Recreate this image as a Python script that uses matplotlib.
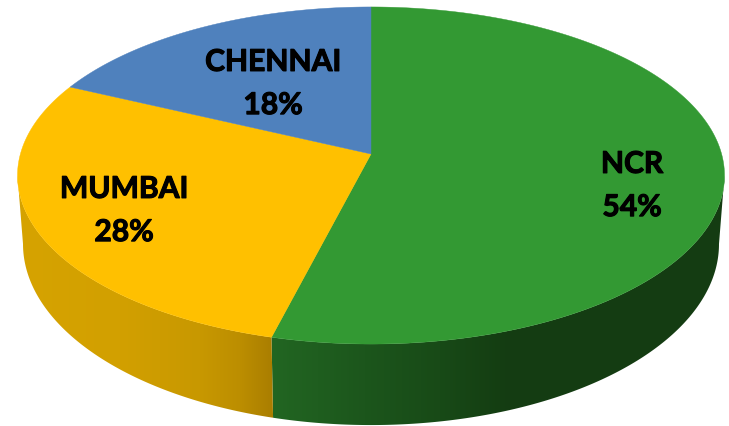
import numpy as np
import matplotlib
matplotlib.use("Agg")
import matplotlib.pyplot as plt
import matplotlib.patheffects as pe
from matplotlib.patches import Polygon
from matplotlib.colors import to_rgb

categories = ["NCR", "MUMBAI", "CHENNAI"]
shares = [54, 28, 18]
top_colors = ["#339933", "#FFC000", "#4F81BD"]
label_pos = [(632, 185), (124, 210), (273, 83)]

# side shading: (x pixel, colour) stops per slice
side_stops = [
    [(271, "#226622"), (365, "#1C561C"), (440, "#184A17"), (505, "#143D12"), (725, "#153C13")],
    [(18, "#D6A300"), (120, "#D2A000"), (200, "#C89800"), (240, "#BC8E00"), (272, "#AA7E00")],
    [(70, "#3F6A9C"), (371, "#3F6A9C")],
]

CX, CY, A, B, K = 371.0, 155.0, 350.6, 165.8, 0.1276
ELL_CY = 176.5
LOW_CY, SX, SY = 245.0, 348 / 353.5, 181 / 168.5
T_R = np.arccos(-K)
T_L = 2 * np.pi - T_R


def top_pt(t):
    u, v = np.sin(t), np.cos(t)
    w = 1 + K * v
    return CX + A * u / w, CY - B * v / w


def low_pt(t):
    x, y = top_pt(t)
    return CX + (x - CX) * SX, LOW_CY + (y - ELL_CY) * SY


fig = plt.figure(figsize=(7.29, 4.27), dpi=100)
ax = fig.add_axes([0, 0, 1, 1])
ax.axis("off")

edges = np.concatenate([[0], np.cumsum(shares)]) / sum(shares) * 2 * np.pi
px = np.arange(729) + 0.5

# side walls: horizontal gradient clipped to each slice's visible wall
for i in range(len(shares)):
    lo, hi = max(edges[i], T_R), min(edges[i + 1], T_L)
    if hi <= lo:
        continue
    ts = np.linspace(lo, hi, 500)
    xs, ys = top_pt(ts)
    xl, yl = low_pt(ts)
    stops = side_stops[i]
    sx = [s[0] for s in stops]
    sc = np.array([to_rgb(s[1]) for s in stops])
    grad = np.stack([np.interp(px, sx, sc[:, c]) for c in range(3)], axis=1)[None, :, :]
    im = ax.imshow(grad, extent=(0, 729, 427, 0), aspect="auto", zorder=1, interpolation="bilinear")
    clip = Polygon(np.c_[np.r_[xs, xl[::-1]], np.r_[ys, yl[::-1]]], closed=True, transform=ax.transData)
    im.set_clip_path(clip)

ax.set_xlim(0, 729)
ax.set_ylim(427, 0)

# top faces
for i, c in enumerate(top_colors):
    ts = np.linspace(edges[i], edges[i + 1], 300)
    xs, ys = top_pt(ts)
    ax.fill(np.r_[CX, xs], np.r_[CY, ys], facecolor=c, edgecolor=c, linewidth=0.3, zorder=2)

for name, share, (x, y) in zip(categories, shares, label_pos):
    ax.text(x, y + 1.5, f"{name}\n{share}%", ha="center", va="center", family="Lato",
            fontweight="bold", fontsize=21.6, linespacing=1.66, color="black", zorder=3,
            path_effects=[pe.withStroke(linewidth=0.8, foreground="black")])

fig.savefig("out.png", dpi=100)
